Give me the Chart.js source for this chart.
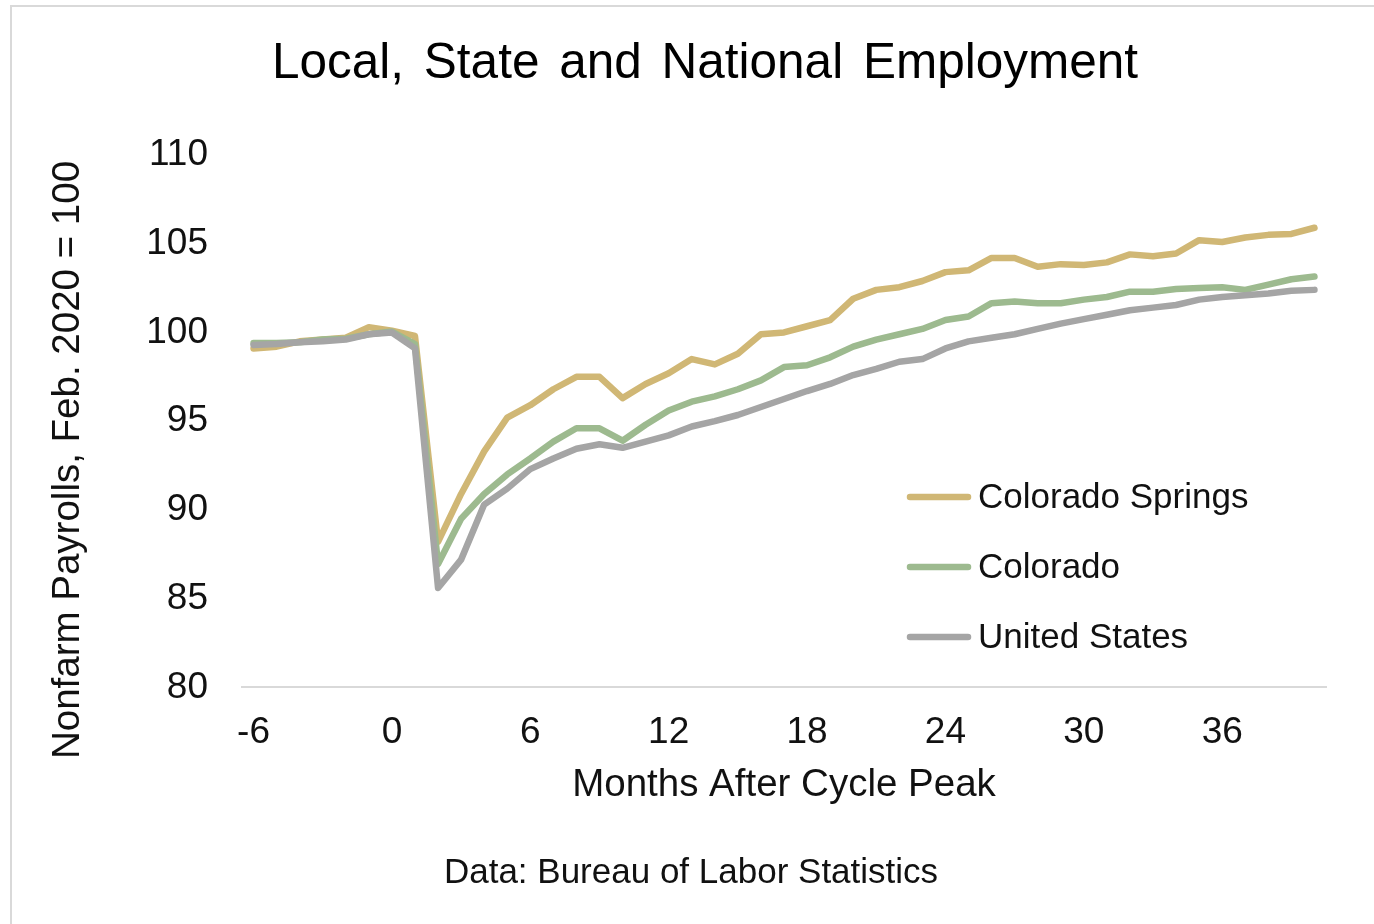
<!DOCTYPE html>
<html>
<head>
<meta charset="utf-8">
<title>Local, State and National Employment</title>
<script src="https://cdn.jsdelivr.net/npm/chart.js@4.4.1/dist/chart.umd.min.js"></script>
<style>
  html, body { margin: 0; padding: 0; background: #fff; overflow: hidden; }
  .frame {
    position: absolute; left: 10px; top: 5px; width: 1400px; height: 940px;
    border-top: 2px solid #d9d9d9; border-left: 2px solid #d9d9d9;
  }
  .wrap { position: absolute; left: 12px; top: 7px; width: 1386px; height: 917px; }
</style>
</head>
<body>
<div class="frame"></div>
<div class="wrap"><canvas id="chart"></canvas></div>
<script>
// months relative to the Feb. 2020 cycle peak
const months = [-6, -5, -4, -3, -2, -1, 0, 1, 2, 3, 4, 5, 6, 7, 8, 9, 10, 11, 12, 13, 14, 15, 16, 17,
  18, 19, 20, 21, 22, 23, 24, 25, 26, 27, 28, 29, 30, 31, 32, 33, 34, 35, 36, 37, 38, 39, 40];

// payroll index, Feb. 2020 = 100
const coloradoSprings = [99.1, 99.2, 99.5, 99.6, 99.7, 100.3, 100.1,
  99.8, 88.2, 90.9, 93.3, 95.2, 95.9, 96.8, 97.5, 97.5, 96.3,
  97.1, 97.7, 98.5, 98.2, 98.8, 99.9, 100.0, 100.35, 100.7, 101.9,
  102.4, 102.55, 102.9, 103.4, 103.5, 104.2, 104.2, 103.7, 103.85, 103.8,
  103.95, 104.4, 104.3, 104.45, 105.2, 105.1, 105.35, 105.5, 105.55, 105.9];

const colorado = [99.4, 99.4, 99.45, 99.6, 99.65, 99.9, 100.05,
  99.35, 86.95, 89.5, 90.9, 92.0, 92.9, 93.85, 94.6, 94.6, 93.9,
  94.8, 95.6, 96.1, 96.4, 96.8, 97.3, 98.05, 98.15, 98.6, 99.2,
  99.6, 99.9, 100.2, 100.7, 100.9, 101.65, 101.75, 101.65, 101.65, 101.85,
  102.0, 102.3, 102.3, 102.45, 102.5, 102.55, 102.4, 102.7, 103.0, 103.15];

const unitedStates = [99.3, 99.35, 99.45, 99.5, 99.6, 99.9, 100.0,
  99.1, 85.6, 87.2, 90.3, 91.2, 92.3, 92.9, 93.45, 93.7, 93.5,
  93.85, 94.2, 94.7, 95.0, 95.35, 95.8, 96.25, 96.7, 97.1, 97.6,
  97.95, 98.35, 98.5, 99.1, 99.5, 99.7, 99.9, 100.2, 100.5, 100.75,
  101.0, 101.25, 101.4, 101.55, 101.85, 102.0, 102.1, 102.2, 102.35, 102.4];

const FONT = "'Liberation Sans', Arial, sans-serif";

Chart.defaults.color = "#111111";
Chart.defaults.font.family = FONT;

// title, y axis caption, in-plot legend and source line
const notes = {
  id: "notes",
  afterDraw(chart, args, opts) {
    const ctx = chart.ctx;
    ctx.save();
    ctx.fillStyle = "#000000";
    ctx.textBaseline = "middle";
    ctx.textAlign = "center";

    ctx.font = "49.5px " + FONT;
    ctx.wordSpacing = "6px";
    ctx.fillText(opts.title, opts.titleX, opts.titleY);
    ctx.wordSpacing = "0px";

    ctx.save();
    ctx.translate(opts.yTitleX, opts.yTitleY);
    ctx.rotate(-Math.PI / 2);
    ctx.font = "38.5px " + FONT;
    ctx.fillStyle = "#111111";
    ctx.fillText(opts.yTitle, 0, 0);
    ctx.restore();

    ctx.font = "35px " + FONT;
    ctx.textAlign = "left";
    chart.data.datasets.forEach((ds, i) => {
      const y = opts.legendY + i * opts.legendGap;
      ctx.strokeStyle = ds.borderColor;
      ctx.lineWidth = 6.5;
      ctx.lineCap = "round";
      ctx.beginPath();
      ctx.moveTo(opts.legendX, y);
      ctx.lineTo(opts.legendX + 58, y);
      ctx.stroke();
      ctx.fillStyle = "#111111";
      ctx.fillText(ds.label, opts.legendX + 68, y + 1);
    });

    ctx.textAlign = "center";
    ctx.fillText(opts.source, opts.sourceX, opts.sourceY);
    ctx.restore();
  }
};

new Chart(document.getElementById("chart"), {
  type: "line",
  data: {
    labels: months,
    datasets: [
      {
        label: "Colorado Springs",
        data: coloradoSprings,
        borderColor: "#D0B775",
        order: 3,
      },
      {
        label: "Colorado",
        data: colorado,
        borderColor: "#9DBA8F",
        order: 2,
      },
      {
        label: "United States",
        data: unitedStates,
        borderColor: "#A5A5A5",
        order: 1,
      },
    ],
  },
  options: {
    responsive: true,
    maintainAspectRatio: false,
    animation: false,
    elements: {
      point: { radius: 0 },
      line: {
        borderWidth: 6.5,
        tension: 0,
        borderJoinStyle: "round",
        borderCapStyle: "round",
      },
    },
    layout: {
      padding: { left: 0, right: 72, top: 148, bottom: 116 },
    },
    plugins: {
      legend: { display: false },
      tooltip: { enabled: false },
      title: { display: false },
      notes: {
        title: "Local, State and National Employment",
        titleX: 693,
        titleY: 57,
        yTitle: "Nonfarm Payrolls, Feb. 2020 = 100",
        yTitleX: 56,
        yTitleY: 453,
        legendX: 898,
        legendY: 490,
        legendGap: 70,
        source: "Data: Bureau of Labor Statistics",
        sourceX: 679,
        sourceY: 866,
      },
    },
    scales: {
      x: {
        type: "category",
        offset: true,
        grid: { display: false, drawTicks: false },
        border: { display: true, color: "#D9D9D9", width: 2 },
        ticks: {
          autoSkip: false,
          maxRotation: 0,
          padding: 23,
          font: { size: 37 },
          callback: function (value, index) {
            return months[index] % 6 === 0 ? String(months[index]) : "";
          },
        },
        title: {
          display: true,
          text: "Months After Cycle Peak",
          font: { size: 38.5 },
          padding: { top: -16, bottom: 0 },
        },
      },
      y: {
        min: 80,
        max: 110,
        grid: { display: false, drawTicks: false },
        border: { display: false },
        ticks: {
          stepSize: 5,
          padding: 34,
          font: { size: 37 },
        },
        afterFit: function (scale) {
          scale.width = 230;
        },
      },
    },
  },
  plugins: [notes],
});
</script>
</body>
</html>
